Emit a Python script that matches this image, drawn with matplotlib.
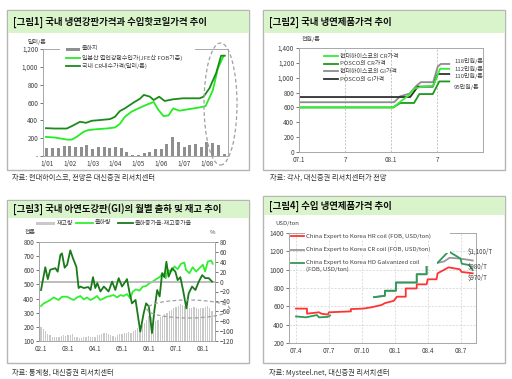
import matplotlib
matplotlib.use("Agg")
import matplotlib.pyplot as plt
from matplotlib.patches import Rectangle, Ellipse
from matplotlib.lines import Line2D
from matplotlib.ticker import FuncFormatter

plt.rcParams['font.family'] = ['Noto Sans CJK KR', 'DejaVu Sans']

# ---------------- Panel 1 data ----------------
p1_bar_x = [2001 + 0.25 * k for k in range(32)]
p1_bars = [90, 95, 95, 110, 110, 105, 100, 120, 80, 100, 100, 95, 100, 95, 45, 15,
           10, 35, 45, 75, 75, 130, 210, 155, 105, 125, 135, 100, 155, 150, 120, 25]
p1_cr_x = [2000.96, 2001.36, 2001.87, 2002.09, 2002.45, 2002.71, 2002.96, 2003.32, 2003.76,
           2003.98, 2004.19, 2004.41, 2004.63, 2004.85, 2005.06, 2005.24, 2005.5, 2005.67,
           2005.91, 2006.15, 2006.52, 2006.95, 2007.68, 2007.85, 2008.11, 2008.4, 2008.62, 2008.78]
p1_cr = [312, 308, 308, 335, 384, 372, 395, 403, 414, 440, 504, 534, 572, 609, 640, 685, 666,
         628, 665, 617, 636, 647, 647, 665, 760, 929, 1125, 1125]
p1_jfe_x = [2000.96, 2001.36, 2001.87, 2002.09, 2002.3, 2002.6, 2002.8, 2003.15, 2003.6,
            2003.98, 2004.19, 2004.41, 2004.7, 2005.0, 2005.4, 2005.67, 2005.88, 2006.1,
            2006.32, 2006.52, 2006.8, 2007.68, 2007.94, 2008.26, 2008.48, 2008.72]
p1_jfe = [214, 207, 184, 184, 214, 271, 290, 300, 308, 320, 360, 440, 497, 534, 579, 606,
          515, 448, 455, 534, 508, 545, 560, 740, 985, 1117]
p1_xticks = [2001, 2002, 2003, 2004, 2005, 2006, 2007, 2008]
p1_xlabels = ['1/01', '1/02', '1/03', '1/04', '1/05', '1/06', '1/07', '1/08']

# ---------------- Panel 2 data ----------------
p2_hgi_x = [0, 12.4, 13.2, 14.4, 15.3, 15.9, 17.5, 18.1, 18.5, 19.6]
p2_hgi = [670, 670, 750, 785, 890, 940, 940, 1150, 1185, 1185]
p2_pgi_x = [0, 14.5, 15.5, 17.45, 18.1, 19.6]
p2_pgi = [740, 740, 880, 880, 1050, 1050]
p2_pcr_x = [0, 12.3, 13.2, 15.0, 15.7, 17.45, 18.3, 19.6]
p2_pcr = [600, 600, 660, 660, 780, 780, 950, 950]
p2_hcr_x = [0, 12.3, 13.5, 14.3, 15.0, 16.0, 17.5, 18.4, 19.6]
p2_hcr = [600, 600, 700, 760, 850, 880, 890, 1120, 1120]
p2_xticks = [0, 6, 12, 18]
p2_xlabels = ['07.1', '7', '08.1', '7']
p2_notes = ['118만원/톤', '112만원/톤', '110만원/톤', '95만원/톤']

# ---------------- Panel 3 data ----------------
p3_stock = [200, 185, 170, 150, 140, 130, 125, 125, 130, 135, 140, 135,
            140, 145, 150, 130, 125, 120, 120, 125, 130, 135, 130, 125,
            130, 140, 145, 150, 155, 160, 150, 140, 135, 130, 140, 150,
            150, 160, 155, 165, 160, 170, 180, 190, 200, 210, 230, 250,
            280, 270, 250, 240, 250, 270, 280, 290, 300, 310, 320, 330,
            340, 350, 360, 355, 345, 340, 330, 335, 340, 330, 325, 330,
            335, 340, 345, 330, 310]
p3_ship_x = [0, 1.2, 2.7, 4.1, 5.6, 7.8, 9.3, 11.6, 13, 14.5, 16, 17.5, 19, 20.4, 21.9,
             23.4, 24.9, 26.3, 27.8, 29.3, 30.8, 32.3, 33.8, 35.3, 36.7, 38.2, 39.7, 40.7,
             42.2, 43.7, 45.2, 46.7, 48.1, 49.6, 51.1, 52.6, 54.1, 55.4, 56.3, 57.8, 59.3,
             60.7, 62.2, 63.7, 64.4, 65.9, 67.4, 68.9, 70.4, 71.9, 72.9, 74.1, 75.6, 76.3]
p3_ship = [347, 366, 378, 390, 408, 390, 413, 413, 401, 390, 408, 418, 394, 408, 390, 401,
           418, 390, 401, 413, 418, 425, 408, 425, 418, 432, 401, 449, 465, 456, 484, 489,
           508, 520, 537, 551, 579, 544, 603, 591, 627, 608, 646, 655, 603, 579, 622, 591,
           615, 639, 591, 662, 669, 646]
p3_diff_x = [0, 1.9, 3, 4.1, 6.4, 7.4, 8.6, 9.3, 10.5, 11.6, 13, 14.2, 15.7, 16.7, 17.5,
             19, 21, 22, 23.1, 24.1, 25, 26.4, 27.9, 29, 30, 31.6, 33, 34.5, 36, 38.2, 39.4,
             40.4, 42, 44.1, 45.6, 46.7, 47.9, 49.3, 50.4, 51.6, 52.7, 53.8, 54.8, 55.7,
             56.7, 58.2, 59.7, 60.7, 61.9, 63.1, 64.6, 65.6, 67.1, 68.6, 70.1, 71.6, 73,
             74.5, 76]
p3_diff = [-17, 29, 5, 24, 27, 20, 54, 57, 28, 34, 63, 47, 30, -13, -10, -13, -11, -17, 9,
           -13, -3, -20, -10, -15, -20, 0, -17, 7, -10, 5, -24, -44, -37, -101, -64, -44,
           -50, -104, -57, -17, -30, 17, 9, 40, 10, 27, 20, 3, 9, -17, -54, -24, -10, -17,
           0, 13, 7, 7, 0]
p3_xticks = [0, 12, 24, 36, 48, 60, 72]
p3_xlabels = ['02.1', '03.1', '04.1', '05.1', '06.1', '07.1', '08.1']

# ---------------- Panel 4 data ----------------
p4_hr_x = [0, 1, 1, 2.1, 2.3, 2.9, 3.0, 4.0, 5.0, 5.0, 6.1, 6.9, 7.8, 8.1, 8.9, 9.2, 10.0,
           10.0, 11.0, 11.0, 11.9, 12.0, 12.8, 12.9, 13.9, 14.9, 15.1, 15.8, 16.1]
p4_hr = [575, 575, 520, 535, 520, 510, 535, 540, 545, 570, 575, 590, 615, 635, 660, 705,
         705, 795, 795, 840, 840, 895, 895, 960, 1025, 1005, 975, 965, 960]
p4_cr_x = [7.1, 8.1, 8.1, 9.1, 9.1, 11.0, 11.0, 11.9, 11.9, 12.9, 13.5, 14.0, 15.0, 16.1]
p4_cr = [700, 715, 770, 770, 860, 860, 950, 950, 1075, 1075, 1090, 1130, 1120, 1100]
p4_gi_a_x = [0, 0.9, 1.9, 2.1, 2.9, 3.1]
p4_gi_a = [490, 480, 505, 480, 485, 500]
p4_gi_b_x = [7.1, 8.1, 8.1, 9.1, 9.1, 11.0, 11.0, 11.9, 11.9, 12.9, 13.9, 15.0, 15.1, 15.8, 16.1]
p4_gi_b = [700, 715, 770, 770, 860, 860, 950, 950, 1075, 1075, 1200, 1120, 1065, 1050, 995]
p4_xticks = [0, 3, 6, 9, 12, 15]
p4_xlabels = ['07.4', '07.7', '07.10', '08.1', '08.4', '08.7']

# ================= Figure =================
W, H = 512, 379
fig = plt.figure(figsize=(W / 100, H / 100), dpi=100)
fig.patch.set_facecolor('white')


def fx(x):
    return x / W


def fy(y):
    return 1 - y / H


def ax_at(l, t, r, b):
    return fig.add_axes([l / W, 1 - b / H, (r - l) / W, (b - t) / H])


def rect(l, t, r, b, **kw):
    p = Rectangle((fx(l), fy(b)), (r - l) / W, (b - t) / H, transform=fig.transFigure, **kw)
    fig.patches.append(p)
    return p


def hline(x0, x1, y, **kw):
    fig.add_artist(Line2D([fx(x0), fx(x1)], [fy(y), fy(y)], transform=fig.transFigure, **kw))


def text(x, y, s, **kw):
    kw.setdefault('va', 'center')
    fig.text(fx(x), fy(y), s, **kw)


def ellipse(l, t, r, b):
    e = Ellipse(((fx(l) + fx(r)) / 2, (fy(t) + fy(b)) / 2), (r - l) / W, (b - t) / H,
                transform=fig.transFigure, fill=False, ls=(0, (3, 2)), ec='#a0a0a0', lw=0.9,
                zorder=6)
    fig.patches.append(e)


BAND = '#d9f4cb'
BORDER = '#b5b5b5'
TICKC = '#404040'
FS_T = 4.6

panels = [
    ((7, 10, 249, 170), 33, '[그림1] 국내 냉연강판가격과 수입핫코일가격 추이',
     (12, 178), '자료: 현대하이스코, 전망은 대신증권 리서치센터'),
    ((263, 10, 505, 170), 33, '[그림2] 국내 냉연제품가격 추이',
     (270, 178), '자료: 각사, 대신증권 리서치센터가 전망'),
    ((7, 200, 249, 363), 218, '[그림3] 국내 아연도강판(GI)의 월별 출하 및 재고 추이',
     (12, 373), '자료: 통계청, 대신증권 리서치센터'),
    ((263, 196, 505, 363), 215, '[그림4] 수입 냉연제품가격 추이',
     (269, 373), '자료: Mysteel.net, 대신증권 리서치센터'),
]
for (l, t, r, b), band_b, title, (sx, sy), src in panels:
    rect(l, t, r, b, fc='white', ec=BORDER, lw=1.0, zorder=-2)
    rect(l + 0.5, t + 0.5, r - 0.5, band_b, fc=BAND, ec='none', zorder=-1)
    text(l + 6, (t + band_b) / 2 + 0.5, title, fontsize=6.8, fontweight='bold', color='#111111')
    text(sx, sy, src, fontsize=5.2, color='#333333')


def style_ax(ax):
    for s in ax.spines.values():
        s.set_color('#a8a8a8')
        s.set_linewidth(0.7)
    ax.tick_params(labelsize=FS_T, colors=TICKC, length=2, width=0.5, pad=1.5)
    ax.set_facecolor('none')


# ---------------- Panel 1 ----------------
ax1 = ax_at(43, 49, 228, 156)
ax1.bar(p1_bar_x, p1_bars, width=0.13, color='#8f8f8f', zorder=1)
ax1.plot(p1_jfe_x, p1_jfe, color='#22ee22', lw=1.3, zorder=3)
ax1.plot(p1_cr_x, p1_cr, color='#1a8a1a', lw=1.3, zorder=4)
ax1.set_xlim(2000.83, 2008.92)
ax1.set_ylim(0, 1200)
ax1.set_xticks(p1_xticks)
ax1.set_xticklabels(p1_xlabels)
ax1.set_yticks(range(0, 1201, 200))
ax1.yaxis.set_major_formatter(FuncFormatter(lambda v, p: '-' if v == 0 else f'{int(v):,}'))
style_ax(ax1)
ax1.tick_params(axis='x', length=0, pad=3)
text(27, 42, '달러/톤', fontsize=4.3, color=TICKC)
rect(60, 45, 195, 70, fc='white', ec='none', zorder=5)
rect(66, 47.5, 80, 50.5, fc='#8f8f8f', ec='none', zorder=6)
text(82, 49, '출하지', fontsize=4.3, color=TICKC, zorder=6)
hline(66, 80, 57.5, color='#22ee22', lw=1.3, zorder=6)
text(82, 57.5, '일본산 열연강판수입가(JFE산 FOB기준)', fontsize=4.3, color=TICKC, zorder=6)
hline(66, 80, 66, color='#1a8a1a', lw=1.3, zorder=6)
text(82, 66, '국내 CR내수가격(달러/톤)', fontsize=4.3, color=TICKC, zorder=6)
ellipse(204, 43, 237, 165)

# ---------------- Panel 2 ----------------
ax2 = ax_at(299, 48, 483, 152)
ax2.plot(p2_hgi_x, p2_hgi, color='#8c8c8c', lw=1.3)
ax2.plot(p2_pgi_x, p2_pgi, color='#303030', lw=1.3)
ax2.plot(p2_pcr_x, p2_pcr, color='#1a9a1a', lw=1.3)
ax2.plot(p2_hcr_x, p2_hcr, color='#33ee33', lw=1.3)
ax2.set_xlim(0, 24)
ax2.set_ylim(0, 1400)
ax2.set_xticks(p2_xticks)
ax2.set_xticklabels(p2_xlabels)
ax2.set_yticks(range(0, 1401, 200))
ax2.yaxis.set_major_formatter(FuncFormatter(lambda v, p: f'{int(v):,}'))
for xv in p2_xticks[1:]:
    ax2.axvline(xv, color='#b0b0b0', lw=0.5, ls=(0, (3, 2)), zorder=0)
style_ax(ax2)
ax2.tick_params(axis='x', length=0, pad=3)
text(302, 39, '천원/톤', fontsize=4.3, color=TICKC)
leg2 = [('#33ee33', '현대하이스코의 CR가격'), ('#1a9a1a', 'POSCO의 CR가격'),
        ('#8c8c8c', '현대하이스코의 GI가격'), ('#303030', 'POSCO의 GI가격')]
for i, (c, lab) in enumerate(leg2):
    yy = 56 + i * 7.7
    hline(324, 338, yy, color=c, lw=1.3)
    text(340, yy, lab, fontsize=4.3, color=TICKC)
for yy, s in zip([61.5, 68.5, 76, 87], p2_notes):
    text(454, yy, s, fontsize=4.3, color=TICKC)

# ---------------- Panel 3 ----------------
ax3 = ax_at(39, 242, 215, 341)
ax3.bar(range(len(p3_stock)), [v - 100 for v in p3_stock], bottom=100, width=0.55,
        color='#c9c9c9', zorder=1)
ax3.plot(p3_ship_x, p3_ship, color='#33ee33', lw=1.3, zorder=3)
ax3.set_xlim(-0.9, 77.3)
ax3.set_ylim(100, 800)
ax3.set_yticks(range(100, 801, 100))
ax3.set_xticks(p3_xticks)
ax3.set_xticklabels(p3_xlabels)
style_ax(ax3)
ax3.tick_params(axis='x', length=0, pad=3)
ax3b = ax3.twinx()
ax3b.axhline(0, color='#b8b8b8', lw=1.3, zorder=2)
ax3b.plot(p3_diff_x, p3_diff, color='#1a7a1a', lw=1.3, zorder=4)
ax3b.set_ylim(-120, 80)
ax3b.set_yticks(range(-120, 81, 20))
style_ax(ax3b)
text(25, 232, '천톤', fontsize=4.3, color=TICKC)
text(210, 232, '%', fontsize=4.3, color=TICKC)
rect(36, 222, 55, 224.5, fc='#c9c9c9', ec='none')
text(57, 223, '재고량', fontsize=4.3, color=TICKC)
hline(76, 93, 223, color='#33ee33', lw=1.3)
text(95, 223, '출하량', fontsize=4.3, color=TICKC)
hline(118, 133, 223, color='#1a7a1a', lw=1.3)
text(135, 223, '출하증가율-재고증가율', fontsize=4.3, color=TICKC)
ellipse(147, 300, 230, 318)

# ---------------- Panel 4 ----------------
ax4 = ax_at(289, 233, 476, 343)
ax4.plot(p4_hr_x, p4_hr, color='#ff3333', lw=1.3, zorder=3)
ax4.plot(p4_cr_x, p4_cr, color='#999999', lw=1.3, zorder=2)
ax4.plot(p4_gi_a_x, p4_gi_a, color='#2e9a55', lw=1.3, zorder=4)
ax4.plot(p4_gi_b_x, p4_gi_b, color='#2e9a55', lw=1.3, zorder=4)
ax4.set_xlim(-0.64, 16.4)
ax4.set_ylim(200, 1400)
ax4.set_yticks(range(200, 1401, 200))
ax4.set_xticks(p4_xticks)
ax4.set_xticklabels(p4_xlabels)
ax4.grid(True, color='#d0d0d0', lw=0.5, ls=(0, (3, 2)))
ax4.set_axisbelow(True)
style_ax(ax4)
ax4.tick_params(axis='x', length=0, pad=3)
text(275, 223, 'USD/ton', fontsize=4.3, color=TICKC)
leg4 = [('#ff3333', 'China Expert to Korea HR coil (FOB, USD/ton)', 236),
        ('#999999', 'China Expert to Korea CR coil (FOB, USD/ton)', 249.5),
        ('#2e9a55', 'China Expert to Korea HD Galvanized coil', 262.5)]
for c, lab, yy in leg4:
    rect(305, yy - 3.5, 305 + 3.3 * len(lab), yy + 3.5, fc='white', ec='none', zorder=5)
    hline(291, 304, yy, color=c, lw=1.3, zorder=6)
    text(306, yy, lab, fontsize=4.3, color=TICKC, zorder=6)
text(306, 269, '(FOB, USD/ton)', fontsize=4.3, color=TICKC, zorder=6)
text(468, 252, '$1,100/T', fontsize=4.5, color=TICKC, zorder=6)
text(468, 267, '$980/T', fontsize=4.5, color=TICKC, zorder=6)
text(468, 278, '$970/T', fontsize=4.5, color=TICKC, zorder=6)

fig.savefig('out.png', dpi=100)
